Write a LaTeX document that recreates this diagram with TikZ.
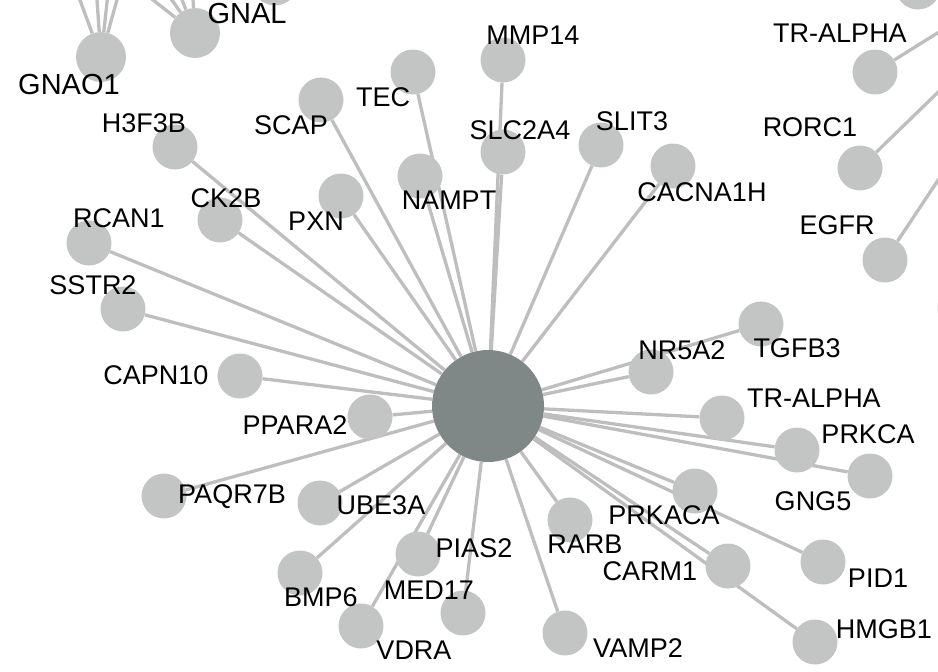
\documentclass[tikz,border=0pt]{standalone}
\usepackage{fontspec}
\setmainfont{Liberation Sans}
\usepackage{tikz}
\usetikzlibrary{backgrounds}

\definecolor{genegray}{RGB}{195,197,196}
\definecolor{hubgray}{RGB}{128,136,135}
\definecolor{edgegray}{RGB}{190,190,190}

\tikzset{
	gene/.style={circle, fill=genegray, minimum size=45pt, inner sep=0pt},
	biggene/.style={gene, minimum size=50pt},
	hub/.style={circle, fill=hubgray, minimum size=112pt, inner sep=0pt},
	lab/.style={inner sep=0pt, font=\fontsize{27}{30}\selectfont},
	biglab/.style={inner sep=0pt, font=\fontsize{29}{32}\selectfont},
	link/.style={draw=edgegray, line width=3.3pt}
}

\begin{document}
\begin{tikzpicture}[x=1pt,y=-1pt]
	\useasboundingbox (0,0) rectangle (938,672);
	% centre
	\node[hub] (hub) at (488,406) {};
	% genes
	\node[biggene] (gnao1) at (101,57) {};
	\node[biggene] (gnal) at (195,33) {};
	\node[gene] (offA) at (275,-17) {};
	\node[gene] (offB) at (918,-13) {};
	\node[gene] (offC) at (960,308) {};
	\node[gene] (h3f3b) at (175,147) {};
	\node[gene] (scap) at (321,100) {};
	\node[gene] (tec) at (413,72) {};
	\node[gene] (mmp14) at (503,60) {};
	\node[gene] (slc2a4) at (503,152) {};
	\node[gene] (slit3) at (601,145) {};
	\node[gene] (cacna1h) at (673,166) {};
	\node[gene] (nampt) at (420,176) {};
	\node[gene] (pxn) at (341,196) {};
	\node[gene] (ck2b) at (220,220) {};
	\node[gene] (rcan1) at (89,243) {};
	\node[gene] (sstr2) at (123,309) {};
	\node[gene] (capn10) at (240,376) {};
	\node[gene] (ppara2) at (370,417) {};
	\node[gene] (paqr7b) at (164,496) {};
	\node[gene] (ube3a) at (320,503) {};
	\node[gene] (bmp6) at (300,573) {};
	\node[gene] (pias2) at (418,554) {};
	\node[gene] (med17) at (463,613) {};
	\node[gene] (vdra) at (361,626) {};
	\node[gene] (vamp2) at (565,633) {};
	\node[gene] (rarb) at (570,520) {};
	\node[gene] (prkaca) at (695,491) {};
	\node[gene] (carm1) at (728,566) {};
	\node[gene] (pid1) at (823,562) {};
	\node[gene] (hmgb1) at (815,642) {};
	\node[gene] (nr5a2) at (651,372) {};
	\node[gene] (tgfb3) at (761,324) {};
	\node[gene] (tralpha) at (722,418) {};
	\node[gene] (prkca) at (797,450) {};
	\node[gene] (gng5) at (870,476) {};
	\node[gene] (tralphatop) at (875,72) {};
	\node[gene] (rorc1) at (860,168) {};
	\node[gene] (egfr) at (885,260) {};
	% ends outside the crop
	\coordinate (gnao1a) at (64,-43);
	\coordinate (gnao1b) at (94,-43);
	\coordinate (gnao1c) at (112,-43);
	\coordinate (gnao1d) at (129,-43);
	\coordinate (gnala) at (68,-67);
	\coordinate (gnalb) at (125,-67);
	\coordinate (gnalc) at (156,-67);
	\coordinate (gnald) at (189,-67);
	\coordinate (tralphaend) at (1000,-6);
	\coordinate (rorc1end) at (1000,32);
	\coordinate (egfrend) at (1000,87);
	% labels
	\node[biglab] (gnao1-l) at (69,85) {GNAO1};
	\node[biglab] (gnal-l) at (247,14) {GNAL};
	\node[lab] (h3f3b-l) at (144,123) {H3F3B};
	\node[lab] (scap-l) at (291,125) {SCAP};
	\node[lab] (tec-l) at (383,97) {TEC};
	\node[lab] (mmp14-l) at (533,35) {MMP14};
	\node[lab] (slc2a4-l) at (520,130) {SLC2A4};
	\node[lab] (slit3-l) at (632,121) {SLIT3};
	\node[lab] (cacna1h-l) at (702,192) {CACNA1H};
	\node[lab] (nampt-l) at (449,200) {NAMPT};
	\node[lab] (pxn-l) at (316,221) {PXN};
	\node[lab] (ck2b-l) at (226,198) {CK2B};
	\node[lab] (rcan1-l) at (119,218) {RCAN1};
	\node[lab] (sstr2-l) at (93,285) {SSTR2};
	\node[lab] (capn10-l) at (156,375) {CAPN10};
	\node[lab] (ppara2-l) at (295,425) {PPARA2};
	\node[lab] (paqr7b-l) at (232,497) {PAQR7B};
	\node[lab] (ube3a-l) at (381,505) {UBE3A};
	\node[lab] (bmp6-l) at (321,597) {BMP6};
	\node[lab] (pias2-l) at (474,548) {PIAS2};
	\node[lab] (med17-l) at (429,590) {MED17};
	\node[lab] (vdra-l) at (414,650) {VDRA};
	\node[lab] (vamp2-l) at (638,648) {VAMP2};
	\node[lab] (rarb-l) at (585,544) {RARB};
	\node[lab] (prkaca-l) at (664,515) {PRKACA};
	\node[lab] (carm1-l) at (650,571) {CARM1};
	\node[lab] (pid1-l) at (878,578) {PID1};
	\node[lab] (hmgb1-l) at (884,629) {HMGB1};
	\node[lab] (nr5a2-l) at (682,350) {NR5A2};
	\node[lab] (tgfb3-l) at (797,348) {TGFB3};
	\node[lab] (tralpha-l) at (814,398) {TR-ALPHA};
	\node[lab] (prkca-l) at (868,434) {PRKCA};
	\node[lab] (gng5-l) at (813,501) {GNG5};
	\node[lab] (tralphatop-l) at (840,33) {TR-ALPHA};
	\node[lab] (rorc1-l) at (810,127) {RORC1};
	\node[lab] (egfr-l) at (837,225) {EGFR};
	% edges
	\begin{scope}[on background layer]
	\draw[link] (hub) -- (h3f3b);
	\draw[link] (hub) -- (scap);
	\draw[link] (hub) -- (tec);
	\draw[link] (hub) -- (nampt);
	\draw[link] (hub) -- (mmp14);
	\draw[link] (hub) -- (slc2a4);
	\draw[link] (hub) -- (slit3);
	\draw[link] (hub) -- (cacna1h);
	\draw[link] (hub) -- (pxn);
	\draw[link] (hub) -- (ck2b);
	\draw[link] (hub) -- (rcan1);
	\draw[link] (hub) -- (sstr2);
	\draw[link] (hub) -- (capn10);
	\draw[link] (hub) -- (ppara2);
	\draw[link] (hub) -- (paqr7b);
	\draw[link] (hub) -- (ube3a);
	\draw[link] (hub) -- (bmp6);
	\draw[link] (hub) -- (pias2);
	\draw[link] (hub) -- (vdra);
	\draw[link] (hub) -- (med17);
	\draw[link] (hub) -- (vamp2);
	\draw[link] (hub) -- (rarb);
	\draw[link] (hub) -- (prkaca);
	\draw[link] (hub) -- (pid1);
	\draw[link] (hub) -- (carm1);
	\draw[link] (hub) -- (hmgb1);
	\draw[link] (hub) -- (nr5a2);
	\draw[link] (hub) -- (tgfb3);
	\draw[link] (hub) -- (tralpha);
	\draw[link] (hub) -- (prkca);
	\draw[link] (hub) -- (gng5);
	\draw[link] (gnao1) -- (gnao1a);
	\draw[link] (gnao1) -- (gnao1b);
	\draw[link] (gnao1) -- (gnao1c);
	\draw[link] (gnao1) -- (gnao1d);
	\draw[link] (gnal) -- (gnala);
	\draw[link] (gnal) -- (gnalb);
	\draw[link] (gnal) -- (gnalc);
	\draw[link] (gnal) -- (gnald);
	\draw[link] (tralphatop) -- (tralphaend);
	\draw[link] (rorc1) -- (rorc1end);
	\draw[link] (egfr) -- (egfrend);
	\end{scope}
\end{tikzpicture}
\end{document}
